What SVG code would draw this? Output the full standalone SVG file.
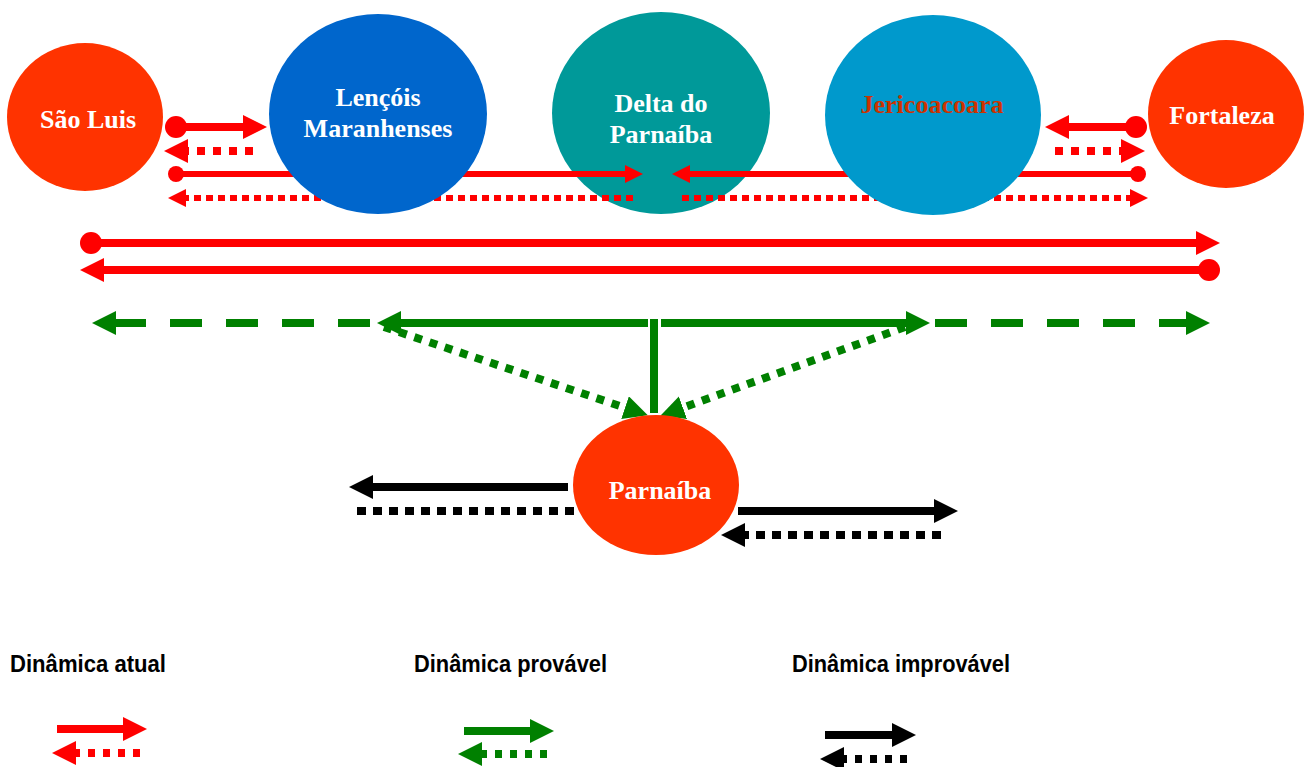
<svg xmlns="http://www.w3.org/2000/svg" width="1304" height="767" viewBox="0 0 1304 767">
<style>
.nt{font-family:"Liberation Serif","Times New Roman",serif;font-weight:bold;font-size:26px;fill:#FFFFFF;text-anchor:middle}
.lg{font-family:"Liberation Sans Narrow","Liberation Sans",Arial,sans-serif;font-weight:bold;font-size:23px;fill:#000000}
.r8{stroke:#FF0000;stroke-width:8;fill:none}
.r6{stroke:#FF0000;stroke-width:6;fill:none}
.g8{stroke:#008000;stroke-width:8;fill:none}
.k8{stroke:#000000;stroke-width:8;fill:none}
.dot8{stroke-dasharray:8 8}
.dot6{stroke-dasharray:7 5}
.dotk{stroke-dasharray:9 7}
.dash{stroke-dasharray:32 24}
.dotl{stroke-dasharray:7 8}
</style>
<defs>
<marker id="aR" markerUnits="userSpaceOnUse" markerWidth="24" markerHeight="24" viewBox="0 0 24 24" refX="1" refY="12" orient="auto"><path d="M0,0 L24,12 L0,24 Z" fill="#FF0000"/></marker>
<marker id="aRs" markerUnits="userSpaceOnUse" markerWidth="18" markerHeight="18" viewBox="0 0 18 18" refX="1" refY="9" orient="auto"><path d="M0,0 L18,9 L0,18 Z" fill="#FF0000"/></marker>
<marker id="aG" markerUnits="userSpaceOnUse" markerWidth="24" markerHeight="24" viewBox="0 0 24 24" refX="1" refY="12" orient="auto"><path d="M0,0 L24,12 L0,24 Z" fill="#008000"/></marker>
<marker id="aK" markerUnits="userSpaceOnUse" markerWidth="24" markerHeight="24" viewBox="0 0 24 24" refX="1" refY="12" orient="auto"><path d="M0,0 L24,12 L0,24 Z" fill="#000000"/></marker>
<marker id="dR" markerUnits="userSpaceOnUse" markerWidth="24" markerHeight="24" viewBox="0 0 24 24" refX="12" refY="12" orient="auto"><circle cx="12" cy="12" r="11" fill="#FF0000"/></marker>
<marker id="dRs" markerUnits="userSpaceOnUse" markerWidth="18" markerHeight="18" viewBox="0 0 18 18" refX="9" refY="9" orient="auto"><circle cx="9" cy="9" r="8" fill="#FF0000"/></marker>
</defs>

<g id="node-delta">
<ellipse cx="661" cy="113" rx="109" ry="101" fill="#009999"/>
<text class="nt" x="661" y="112">Delta do</text>
<text class="nt" x="661" y="143">Parnaíba</text>
</g>

<g id="connectors">
<line class="r8" x1="176" y1="127" x2="244" y2="127" marker-start="url(#dR)" marker-end="url(#aR)"/>
<line class="r8 dot8" x1="253" y1="151" x2="187" y2="151" marker-end="url(#aR)"/>
<line class="r6" x1="176" y1="174" x2="626" y2="174" marker-start="url(#dRs)" marker-end="url(#aRs)"/>
<line class="r6" x1="1138" y1="174" x2="689" y2="174" marker-start="url(#dRs)" marker-end="url(#aRs)"/>
<line class="r6 dot6" x1="633" y1="198" x2="185" y2="198" marker-end="url(#aRs)"/>
<line class="r6 dot6" x1="682" y1="198" x2="1131" y2="198" marker-end="url(#aRs)"/>
<line class="r8" x1="1136" y1="127" x2="1068" y2="127" marker-start="url(#dR)" marker-end="url(#aR)"/>
<line class="r8 dot8" x1="1055" y1="151" x2="1122" y2="151" marker-end="url(#aR)"/>
<line class="r8" x1="91" y1="243" x2="1197" y2="243" marker-start="url(#dR)" marker-end="url(#aR)"/>
<line class="r8" x1="1209" y1="270" x2="103" y2="270" marker-start="url(#dR)" marker-end="url(#aR)"/>
<line class="g8" x1="648" y1="323" x2="400" y2="323" marker-end="url(#aG)"/>
<line class="g8" x1="661" y1="323" x2="907" y2="323" marker-end="url(#aG)"/>
<line class="g8" x1="654" y1="319" x2="654" y2="413"/>
<line class="g8 dash" x1="370" y1="323" x2="115" y2="323" marker-end="url(#aG)"/>
<line class="g8 dash" x1="935" y1="323" x2="1187" y2="323" marker-end="url(#aG)"/>
<line class="g8 dot8" x1="384" y1="327" x2="626" y2="408" marker-end="url(#aG)"/>
<line class="g8 dot8" x1="905" y1="327" x2="682" y2="408" marker-end="url(#aG)"/>
<line class="k8" x1="568" y1="487" x2="372" y2="487" marker-end="url(#aK)"/>
<line class="k8 dotk" x1="357" y1="511" x2="574" y2="511"/>
<line class="k8" x1="738" y1="511" x2="935" y2="511" marker-end="url(#aK)"/>
<line class="k8 dotk" x1="941" y1="535" x2="744" y2="535" marker-end="url(#aK)"/>
</g>

<g id="node-saoluis">
<ellipse cx="85" cy="117" rx="78" ry="74" fill="#FF3300"/>
<text class="nt" x="88" y="128">São Luis</text>
</g>
<g id="node-lencois">
<ellipse cx="378" cy="114" rx="109" ry="100" fill="#0066CC"/>
<text class="nt" x="378" y="106">Lençóis</text>
<text class="nt" x="378" y="137">Maranhenses</text>
</g>
<g id="node-jericoacoara">
<ellipse cx="933" cy="115" rx="108" ry="100" fill="#0099CC"/>
<text class="nt" x="932" y="113" style="fill:#CC3300">Jericoacoara</text>
</g>
<g id="node-fortaleza">
<ellipse cx="1226" cy="114" rx="78" ry="74" fill="#FF3300"/>
<text class="nt" x="1222" y="124">Fortaleza</text>
</g>
<g id="node-parnaiba">
<ellipse cx="656" cy="485" rx="83" ry="70" fill="#FF3300"/>
<text class="nt" x="660" y="499">Parnaíba</text>
</g>

<g id="legend">
<text class="lg" x="10" y="672" textLength="156" lengthAdjust="spacingAndGlyphs">Dinâmica atual</text>
<text class="lg" x="414" y="672" textLength="193" lengthAdjust="spacingAndGlyphs">Dinâmica provável</text>
<text class="lg" x="792" y="672" textLength="218" lengthAdjust="spacingAndGlyphs">Dinâmica improvável</text>
<line class="r8" x1="57" y1="729" x2="124" y2="729" marker-end="url(#aR)"/>
<line class="r8 dotl" x1="140" y1="753" x2="75" y2="753" marker-end="url(#aR)"/>
<line class="g8" x1="464" y1="731" x2="531" y2="731" marker-end="url(#aG)"/>
<line class="g8 dotl" x1="547" y1="754" x2="481" y2="754" marker-end="url(#aG)"/>
<line class="k8" x1="825" y1="735" x2="893" y2="735" marker-end="url(#aK)"/>
<line class="k8 dotl" x1="907" y1="759" x2="843" y2="759" marker-end="url(#aK)"/>
</g>
</svg>
